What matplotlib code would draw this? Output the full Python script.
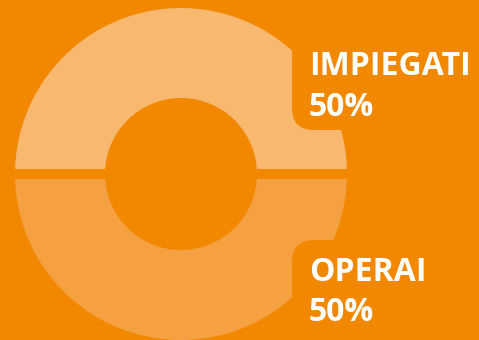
import matplotlib
matplotlib.use("Agg")
import matplotlib.pyplot as plt
from matplotlib.patches import FancyBboxPatch

categories = ["IMPIEGATI", "OPERAI"]
values = [50, 50]
colors = ["#F8B870", "#F5A141"]
bg = "#F18800"

fig = plt.figure(figsize=(4.79, 3.4), dpi=100)
fig.patch.set_facecolor(bg)
ax = fig.add_axes([0, 0, 1, 1])
ax.set_facecolor(bg)

ax.pie(values, colors=colors, startangle=0, counterclock=True,
       radius=171, center=(181, 166),
       wedgeprops=dict(width=100, edgecolor=bg, linewidth=7.2))
ax.set_xlim(0, 479)
ax.set_ylim(0, 340)
ax.set_aspect("auto")
ax.axis("off")

# label boxes (background-coloured, rounded) overlapping the ring
for (x0, y0, h) in [(292, 210, 160), (292, -40, 140)]:
    ax.add_patch(FancyBboxPatch((x0 + 22, y0 + 22), 300, h - 44,
                                boxstyle="round,pad=22",
                                facecolor=bg, edgecolor="none", zorder=3))

font = dict(family=["Open Sans", "DejaVu Sans"], fontweight="bold",
            color="white", fontsize=23, zorder=4, va="baseline", ha="left")
positions = [(309, 340 - 75, 340 - 116), (309, 340 - 281, 340 - 321)]
for cat, val, (x, y1, y2) in zip(categories, values, positions):
    ax.text(x, y1, cat, **font)
    ax.text(x, y2, f"{val}%", **font)

fig.savefig("out.png", dpi=100, facecolor=bg)
